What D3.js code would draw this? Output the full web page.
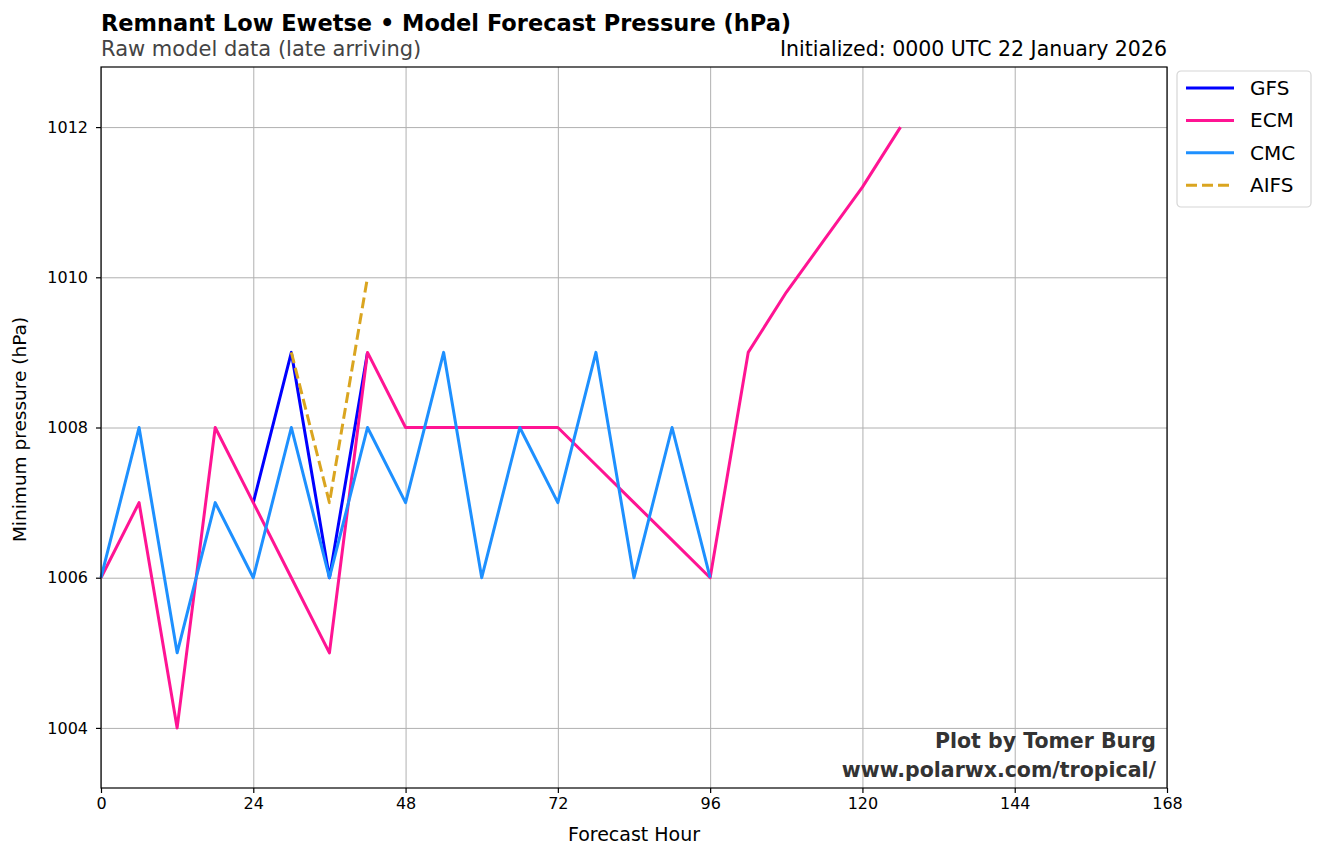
<!DOCTYPE html>
<html>
<head>
<meta charset="utf-8">
<script src="https://cdn.jsdelivr.net/npm/d3@7"></script>
<style>
  body { margin: 0; background: #fff; }
  text { font-family: "DejaVu Sans", sans-serif; }
</style>
</head>
<body>
<svg id="chart" width="1323" height="858"></svg>
<script>
// Forecast data
const gfsHours = [24, 30, 36, 42];
const gfsValues = [1007, 1009, 1006, 1009];

const ecmHours = [0, 6, 12, 18, 24, 30, 36, 42, 48, 54, 60, 66, 72, 78, 84, 90, 96, 102, 108, 114, 120, 126];
const ecmValues = [1006, 1007, 1004, 1008, 1007, 1006, 1005, 1009, 1008, 1008, 1008, 1008, 1008, 1007.5, 1007, 1006.5, 1006, 1009, 1009.8, 1010.5, 1011.2, 1012];

const cmcHours = [0, 6, 12, 18, 24, 30, 36, 42, 48, 54, 60, 66, 72, 78, 84, 90, 96];
const cmcValues = [1006, 1008, 1005, 1007, 1006, 1008, 1006, 1008, 1007, 1009, 1006, 1008, 1007, 1009, 1006, 1008, 1006];

const aifsHours = [30, 36, 42];
const aifsValues = [1009, 1007, 1010];

const xTicks = [0, 24, 48, 72, 96, 120, 144, 168];
const yTicks = [1004, 1006, 1008, 1010, 1012];

const series = [
  { name: "GFS", hours: gfsHours, values: gfsValues, color: "#0000ff", dash: null },
  { name: "ECM", hours: ecmHours, values: ecmValues, color: "#ff1493", dash: null },
  { name: "CMC", hours: cmcHours, values: cmcValues, color: "#1e90ff", dash: null },
  { name: "AIFS", hours: aifsHours, values: aifsValues, color: "#daa520", dash: "11,5" }
];

const margin = { top: 67, left: 101, right: 156, bottom: 70 };
const width = 1323 - margin.left - margin.right;
const height = 858 - margin.top - margin.bottom;

const svg = d3.select("#chart");
const g = svg.append("g").attr("transform", `translate(${margin.left},${margin.top})`);

const x = d3.scaleLinear().domain([0, 168]).range([0, width]);
const y = d3.scaleLinear().domain([1003.2, 1012.8]).range([height, 0]);

// grid
g.append("g")
  .attr("transform", `translate(0,${height})`)
  .call(d3.axisBottom(x).tickValues(xTicks).tickSize(-height).tickFormat(""))
  .call(s => s.select(".domain").remove())
  .selectAll("line").attr("stroke", "#b0b0b0").attr("stroke-width", 1);

g.append("g")
  .call(d3.axisLeft(y).tickValues(yTicks).tickSize(-width).tickFormat(""))
  .call(s => s.select(".domain").remove())
  .selectAll("line").attr("stroke", "#b0b0b0").attr("stroke-width", 1);

// lines
const line = d3.line().x(d => x(d[0])).y(d => y(d[1]));
series.forEach(s => {
  g.append("path")
    .datum(s.hours.map((h, i) => [h, s.values[i]]))
    .attr("fill", "none")
    .attr("stroke", s.color)
    .attr("stroke-width", 3)
    .attr("stroke-linejoin", "round")
    .attr("stroke-dasharray", s.dash)
    .attr("d", line);
});

// frame
g.append("rect").attr("width", width).attr("height", height)
  .attr("fill", "none").attr("stroke", "#000").attr("stroke-width", 1.2);

// axes
const xAxis = g.append("g")
  .attr("transform", `translate(0,${height})`)
  .call(d3.axisBottom(x).tickValues(xTicks).tickSize(5).tickPadding(5));
const yAxis = g.append("g")
  .call(d3.axisLeft(y).tickValues(yTicks).tickSize(5).tickPadding(8).tickFormat(d3.format("d")));
[xAxis, yAxis].forEach(a => {
  a.select(".domain").remove();
  a.selectAll("line").attr("stroke", "#000").attr("stroke-width", 1.2);
  a.selectAll("text").attr("font-size", 16).attr("fill", "#000")
    .style("font-family", "'DejaVu Sans', sans-serif");
});

// labels
g.append("text").attr("x", width / 2).attr("y", height + 53)
  .attr("text-anchor", "middle").attr("font-size", 19).text("Forecast Hour");
g.append("text").attr("transform", "rotate(-90)")
  .attr("x", -height / 2 - 2).attr("y", -75)
  .attr("text-anchor", "middle").attr("font-size", 18.5).text("Minimum pressure (hPa)");

// titles
svg.append("text").attr("x", margin.left).attr("y", 31)
  .attr("font-size", 22.5).attr("font-weight", "bold")
  .text("Remnant Low Ewetse \u2022 Model Forecast Pressure (hPa)");
svg.append("text").attr("x", margin.left).attr("y", 56)
  .attr("font-size", 21).attr("fill", "#444")
  .text("Raw model data (late arriving)");
svg.append("text").attr("x", margin.left + width).attr("y", 56)
  .attr("text-anchor", "end").attr("font-size", 20.5)
  .text("Initialized: 0000 UTC 22 January 2026");

// watermark
g.append("text").attr("x", width - 11).attr("y", height - 40)
  .attr("text-anchor", "end").attr("font-size", 20.5).attr("font-weight", "bold").attr("fill", "#333")
  .text("Plot by Tomer Burg");
g.append("text").attr("x", width - 11).attr("y", height - 11)
  .attr("text-anchor", "end").attr("font-size", 20.5).attr("font-weight", "bold").attr("fill", "#333")
  .text("www.polarwx.com/tropical/");

// legend
const lg = svg.append("g").attr("transform", `translate(${margin.left + width + 10},${margin.top + 4})`);
lg.append("rect").attr("width", 134).attr("height", 136).attr("rx", 4)
  .attr("fill", "#fff").attr("stroke", "#d6d6d6").attr("stroke-width", 1.2);
series.forEach((s, i) => {
  const row = lg.append("g").attr("transform", `translate(0,${17 + i * 32.4})`);
  row.append("line").attr("x1", 9).attr("x2", 57)
    .attr("stroke", s.color).attr("stroke-width", 3).attr("stroke-dasharray", s.dash);
  row.append("text").attr("x", 73).attr("y", 7).attr("font-size", 20).text(s.name);
});
</script>
</body>
</html>
